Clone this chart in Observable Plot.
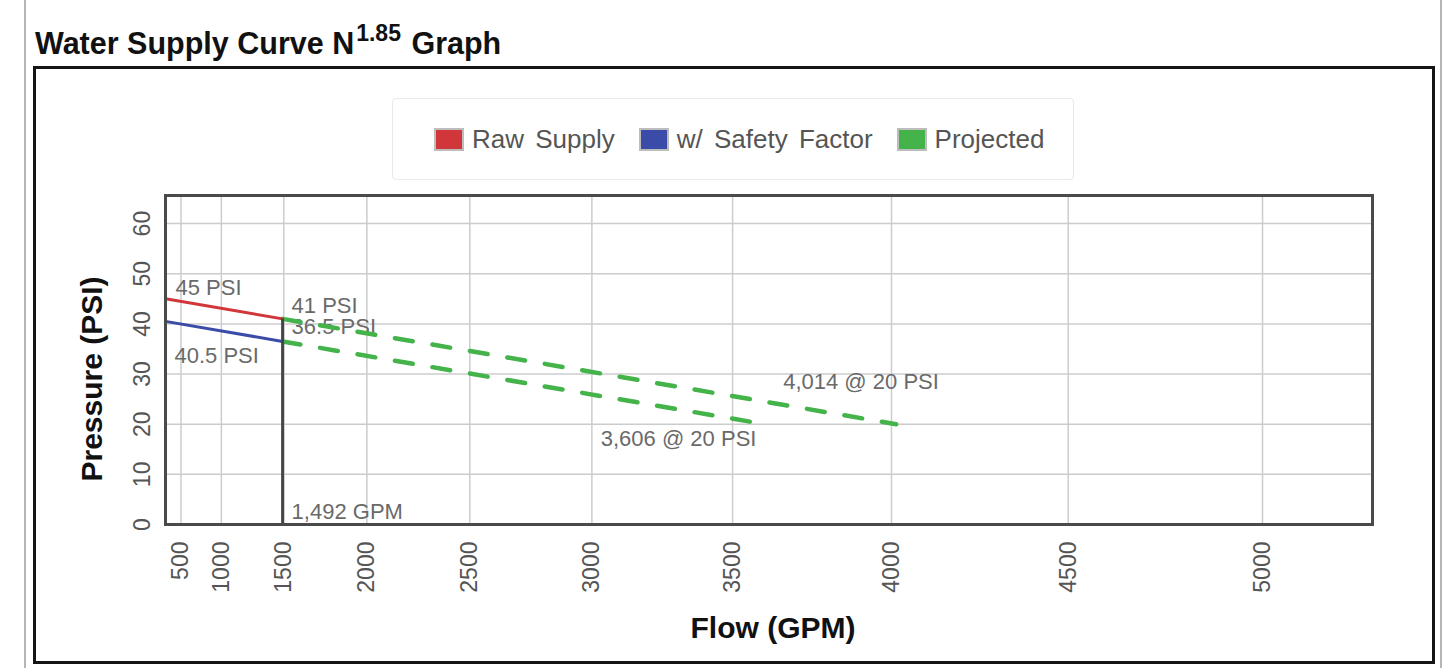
<!DOCTYPE html>
<html>
<head>
<meta charset="utf-8">
<script src="https://cdn.jsdelivr.net/npm/d3@7"></script>
<script src="https://cdn.jsdelivr.net/npm/@observablehq/plot@0.6"></script>
<style>
  html, body { margin: 0; padding: 0; background: #fff; }
  body { width: 1450px; height: 668px; position: relative; overflow: hidden; font-family: "Liberation Sans", Arial, sans-serif; }
  .pageline { position: absolute; top: 0; width: 2px; height: 668px; background: #b5b5b5; }
  #title { position: absolute; left: 35px; top: 28px; font-size: 30.5px; font-weight: bold; line-height: 1; color: #111; white-space: nowrap; }
  #title .sup { font-size: 23px; position: relative; top: -13px; margin-left: 2px; margin-right: 2px; }
  #box { position: absolute; left: 33px; top: 66px; width: 1396px; height: 592px; border: 3px solid #151515; }
  #legend { position: absolute; left: 392px; top: 98px; width: 682px; height: 82px; border: 1px solid #e9e9e9; border-radius: 4px;
            display: flex; align-items: center; box-sizing: border-box; padding-left: 41px; }
  .item { display: flex; align-items: center; margin-right: 24px; }
  .sw { width: 26px; height: 19px; border: 2px solid #bdbdbd; margin-right: 8px; }
  .lab { font-size: 26px; color: #555; word-spacing: 4px; }
  #chart { position: absolute; left: 35px; top: 150px; }
</style>
</head>
<body>
<div class="pageline" style="left:24px"></div>
<div class="pageline" style="left:1440px"></div>
<div id="title">Water Supply Curve N<span class="sup">1.85</span> Graph</div>
<div id="box"></div>
<div id="legend"></div>
<div id="chart"></div>
<script>
// ---- data ----
const seriesNames = ["Raw Supply", "w/ Safety Factor", "Projected"];
const seriesColors = ["#d1363a", "#3a4ca8", "#43b34a"];
const xTicks = [500, 1000, 1500, 2000, 2500, 3000, 3500, 4000, 4500, 5000];
const yTicks = [0, 10, 20, 30, 40, 50, 60];
const rawSupply = [{flow: 0, psi: 45}, {flow: 1492, psi: 41}];
const safetySupply = [{flow: 0, psi: 40.5}, {flow: 1492, psi: 36.5}];
const projectedRaw = [{flow: 1492, psi: 41}, {flow: 4014, psi: 20}];
const projectedSafety = [{flow: 1492, psi: 36.5}, {flow: 3606, psi: 20}];
const testFlow = 1492;
const xDomain = [0, 5265];
const yDomain = [0, 65.6];

// ---- legend ----
const legend = document.getElementById("legend");
seriesNames.forEach((n, i) => {
  const it = document.createElement("div");
  it.className = "item";
  it.innerHTML = `<div class="sw" style="background:${seriesColors[i]}"></div><span class="lab">${n}</span>`;
  legend.appendChild(it);
});

const fmt = d3.format(",");
const annColor = "#6a6a6a";
const annSize = 22;

const chart = Plot.plot({
  width: 1395,
  height: 510,
  marginLeft: 130,
  marginRight: 58,
  marginTop: 45,
  marginBottom: 136,
  x: {type: "pow", exponent: 1.85, domain: xDomain, axis: null},
  y: {domain: yDomain, axis: null},
  style: {fontFamily: "'Liberation Sans', Arial, sans-serif", background: "transparent", overflow: "visible"},
  marks: [
    Plot.ruleX(xTicks, {stroke: "#cccccc", strokeWidth: 1.5}),
    Plot.ruleY(yTicks, {stroke: "#cccccc", strokeWidth: 1.5}),
    // annotations
    Plot.text([rawSupply[0]], {x: "flow", y: "psi", text: d => `${d.psi} PSI`, textAnchor: "start", lineAnchor: "middle", dx: 10, dy: -11, fill: annColor, fontSize: annSize}),
    Plot.text([rawSupply[1]], {x: "flow", y: "psi", text: d => `${d.psi} PSI`, textAnchor: "start", lineAnchor: "middle", dx: 9, dy: -13, fill: annColor, fontSize: annSize}),
    Plot.text([safetySupply[1]], {x: "flow", y: "psi", text: d => `${d.psi} PSI`, textAnchor: "start", lineAnchor: "middle", dx: 9, dy: -14, fill: annColor, fontSize: annSize}),
    Plot.text([safetySupply[0]], {x: "flow", y: "psi", text: d => `${d.psi} PSI`, textAnchor: "start", lineAnchor: "middle", dx: 9, dy: 35, fill: annColor, fontSize: annSize}),
    Plot.text([testFlow], {x: d => d, y: 0, text: d => `${fmt(d)} GPM`, textAnchor: "start", lineAnchor: "middle", dx: 9, dy: -13, fill: annColor, fontSize: annSize}),
    Plot.text([projectedRaw[1]], {x: "flow", y: "psi", text: d => `${fmt(d.flow)} @ ${d.psi} PSI`, textAnchor: "start", lineAnchor: "middle", dx: -113, dy: -42, fill: annColor, fontSize: annSize}),
    Plot.text([projectedSafety[1]], {x: "flow", y: "psi", text: d => `${fmt(d.flow)} @ ${d.psi} PSI`, textAnchor: "start", lineAnchor: "middle", dx: -164, dy: 15, fill: annColor, fontSize: annSize}),
    // lines
    Plot.line(projectedRaw, {x: "flow", y: "psi", stroke: seriesColors[2], strokeWidth: 4.5, strokeDasharray: "18,20"}),
    Plot.line(projectedSafety, {x: "flow", y: "psi", stroke: seriesColors[2], strokeWidth: 4.5, strokeDasharray: "18,20"}),
    Plot.line(rawSupply, {x: "flow", y: "psi", stroke: seriesColors[0], strokeWidth: 3}),
    Plot.line(safetySupply, {x: "flow", y: "psi", stroke: seriesColors[1], strokeWidth: 3}),
    Plot.ruleX([testFlow], {y1: 0, y2: rawSupply[1].psi, stroke: "#454545", strokeWidth: 3}),
    Plot.frame({stroke: "#4a4a4a", strokeWidth: 3}),
    // tick labels
    Plot.text(yTicks, {y: d => d, frameAnchor: "left", text: d => String(d), rotate: -90, textAnchor: "middle", lineAnchor: "middle", dx: -23, fill: "#555", fontSize: 23}),
    Plot.text(xTicks, {x: d => d, frameAnchor: "bottom", text: d => String(d), rotate: -90, textAnchor: "end", lineAnchor: "middle", dy: 17, fill: "#555", fontSize: 23}),
    // axis titles
    Plot.text(["Pressure (PSI)"], {frameAnchor: "left", text: d => d, rotate: -90, textAnchor: "middle", lineAnchor: "middle", dx: -73, dy: 19, fill: "#111", fontSize: 30, fontWeight: "bold"}),
    Plot.text(["Flow (GPM)"], {frameAnchor: "bottom", text: d => d, textAnchor: "middle", lineAnchor: "middle", dx: 4, dy: 104, fill: "#111", fontSize: 30, fontWeight: "bold"})
  ]
});
document.getElementById("chart").appendChild(chart);
</script>
</body>
</html>
